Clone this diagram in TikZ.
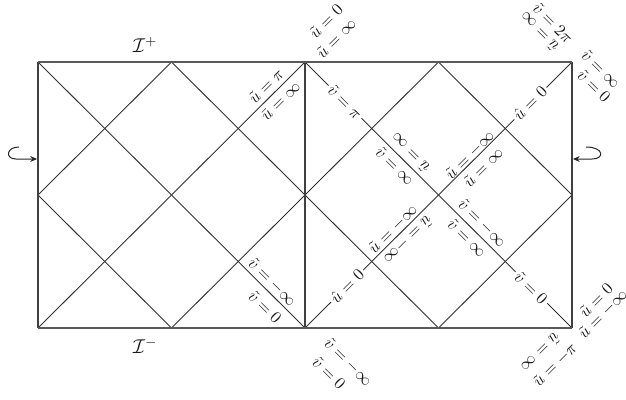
\documentclass[tikz,border=0pt]{standalone}
\usetikzlibrary{arrows.meta}
\begin{document}
\begin{tikzpicture}[x=0.6pt,y=-0.6pt,
  vedge/.style={line width=1.1pt, draw=black!75},
  hedge/.style={line width=1.5pt, draw=black!65},
  gridline/.style={line width=0.55pt, draw=black!80},
  lab/.style={inner sep=0.5pt, text=black!90},
  scri/.style={inner sep=1pt, text=black!90, font=\large},
  onl/.style={lab, fill=white, inner sep=1.5pt},
  hook/.style={line width=0.6pt, draw=black!85, -{Stealth[length=4pt,width=3.5pt]}}]
\useasboundingbox (0,0) rectangle (626,399);
% grid points
\coordinate (A0) at (38,62);  \coordinate (A1) at (171.5,62); \coordinate (A2) at (305,62);
\coordinate (A3) at (438.5,62); \coordinate (A4) at (572,62);
\coordinate (B0) at (38,195); \coordinate (B1) at (171.5,195); \coordinate (B2) at (305,195);
\coordinate (B3) at (438.5,195); \coordinate (B4) at (572,195);
\coordinate (C0) at (38,328); \coordinate (C1) at (171.5,328); \coordinate (C2) at (305,328);
\coordinate (C3) at (438.5,328); \coordinate (C4) at (572,328);
% diagonals, left square
\draw[gridline] (A0) -- (C2);
\draw[gridline] (A1) -- (B2);
\draw[gridline] (B0) -- (C1);
\draw[gridline] (C0) -- (A2);
\draw[gridline] (B0) -- (A1);
\draw[gridline] (C1) -- (B2);
% diagonals, right square
\draw[gridline] (A2) -- (C4);
\draw[gridline] (A3) -- (B4);
\draw[gridline] (B2) -- (C3);
\draw[gridline] (C2) -- (A4);
\draw[gridline] (B2) -- (A3);
\draw[gridline] (C3) -- (B4);
% frame
\draw[vedge] (A0) -- (C0);
\draw[vedge] (A2) -- (C2);
\draw[vedge] (A4) -- (C4);
\draw[hedge] (A0) -- (A4);
\draw[hedge] (C0) -- (C4);
% scri labels
\node[scri] (scrip) at (145,45) {$\mathcal{I}^+$};
\node[scri] (scrim) at (145,346) {$\mathcal{I}^-$};
% hooks
\coordinate (hl0) at (19,147); \coordinate (hl1) at (16,159); \coordinate (hl2) at (37,159);
\draw[hook] (hl0) .. controls (6,147) and (5,159) .. (hl1) -- (hl2);
\coordinate (hr0) at (586,147); \coordinate (hr1) at (592,159); \coordinate (hr2) at (573,159);
\draw[hook] (hr0) .. controls (604,147) and (605,159) .. (hr1) -- (hr2);
% labels on lines
\node[onl, rotate=-45] (vpi) at (345,102) {$\tilde v=\pi$};
\node[onl, rotate=45] (u0a) at (530,103) {$\hat u=0$};
\node[onl, rotate=45] (u0b) at (347,286) {$\hat u=0$};
\node[onl, rotate=-45] (v0a) at (531,288) {$\tilde v=0$};
% left square labels
\node[lab, rotate=45] (lupi) at (266,86) {$\tilde u=\pi$};
\node[lab, rotate=45] (luinf) at (281,101) {$\bar u=\infty$};
\node[lab, rotate=-45] (lvmi) at (272,282) {$\tilde v=-\infty$};
\node[lab, rotate=-45] (lv0) at (265,307) {$\tilde v=0$};
% right square centre labels
\node[lab, rotate=135] (c1) at (410,153) {$\tilde u=\infty$};
\node[lab, rotate=-45] (c2) at (395,166) {$\tilde v=\infty$};
\node[lab, rotate=45] (c3) at (470,155) {$\tilde u=-\infty$};
\node[lab, rotate=45] (c4) at (483,167) {$\tilde u=\infty$};
\node[lab, rotate=45] (c5) at (393,229) {$\tilde u=-\infty$};
\node[lab, rotate=225] (c6) at (408,240) {$\tilde u=-\infty$};
\node[lab, rotate=-45] (c7) at (482,223) {$\tilde v=-\infty$};
\node[lab, rotate=-45] (c8) at (467,238) {$\tilde v=\infty$};
% outer corner labels
\node[lab, rotate=45] (t1) at (326,21) {$\tilde u=0$};
\node[lab, rotate=45] (t2) at (336,38) {$\tilde u=\infty$};
\node[lab, rotate=-45] (t3) at (553,23) {$\tilde v=2\pi$};
\node[lab, rotate=135] (t4) at (539,32) {$\tilde u=\infty$};
\node[lab, rotate=-45] (t5) at (601,69) {$\tilde v=\infty$};
\node[lab, rotate=-45] (t6) at (594,86) {$\tilde v=0$};
\node[lab, rotate=45] (b1) at (596,300) {$\tilde u=0$};
\node[lab, rotate=45] (b2) at (603,314) {$\tilde u=-\infty$};
\node[lab, rotate=225] (b3) at (541,353) {$\tilde u=\infty$};
\node[lab, rotate=45] (b4) at (555,365) {$\tilde u=-\pi$};
\node[lab, rotate=-45] (b5) at (348,362) {$\tilde v=-\infty$};
\node[lab, rotate=-45] (b6) at (329,373) {$\tilde v=0$};
\end{tikzpicture}
\end{document}
